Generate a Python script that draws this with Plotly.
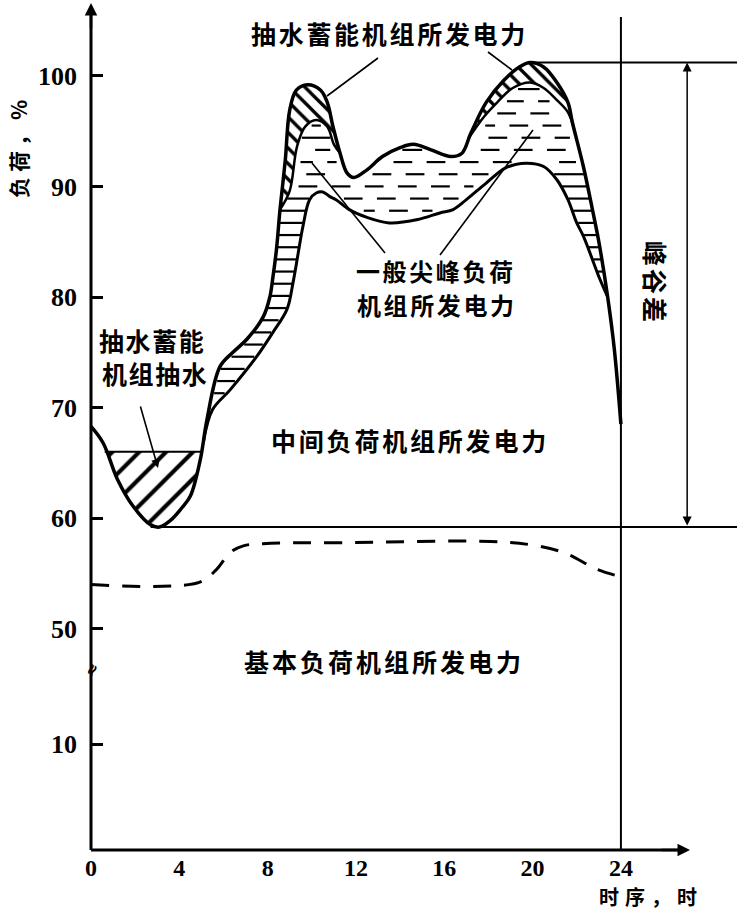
import numpy as np
import plotly.graph_objects as go

# ---------------- data (hour of day, load in %) ----------------
hours_total = [0, 0.55, 1.2, 1.9, 2.7, 3.1, 3.6, 4.1, 4.5, 4.95, 5.25, 5.84, 6.43, 7.07, 7.8,
               8.1, 8.24, 8.4, 8.56, 8.8, 9.0, 9.3, 9.8, 10.4, 10.7, 10.96, 11.28, 11.6, 11.9,
               12.5, 13.2, 14.0, 14.6, 15.4, 16.3, 16.8, 17.2, 17.9, 18.7, 19.4, 19.9, 20.5,
               21.1, 21.6, 21.8, 22.3, 22.7, 23.0, 23.4, 23.7, 24.0]
load_total = [68.3, 66.8, 63.5, 61.1, 59.4, 59.2, 59.8, 60.9, 62.0, 65.3, 68.9, 73.7, 75.0, 76.2, 78.2,
              80.0, 81.8, 84.3, 87.9, 92.4, 96.9, 98.7, 99.2, 98.7, 97.6, 95.4, 93.0, 91.2, 90.8,
              91.5, 92.7, 93.5, 93.8, 93.3, 92.7, 93.0, 94.8, 97.6, 99.6, 100.8, 101.2, 100.8,
              99.4, 97.6, 95.8, 91.8, 88.0, 85.0, 80.0, 75.3, 68.5]

# top of intermediate-load generation
hours_mid = [5.1, 5.5, 6.3, 7.5, 8.24, 8.88, 9.15, 9.37, 9.6, 9.9, 10.2, 10.5, 10.8, 11.1, 11.7,
             12.5, 13.5, 14.8, 15.8, 16.4, 17.0, 17.9, 18.8, 19.7, 20.5, 21.1, 21.6, 22.0, 22.3,
             23.05, 23.4]
load_mid = [67.0, 69.8, 71.6, 74.6, 76.8, 78.9, 81.3, 83.8, 86.4, 88.8, 89.4, 89.5, 89.1, 88.8, 87.9,
            87.2, 86.7, 87.0, 87.6, 87.9, 88.8, 90.3, 91.7, 92.1, 91.8, 90.6, 88.8, 86.7, 85.5,
            81.6, 80.0]

# top of general peak-load generation (where pumped storage generates above it)
hours_gp_left = [8.56, 9.0, 9.33, 9.7, 10.2, 10.7, 11.0, 11.28]
load_gp_left = [87.9, 89.6, 93.6, 95.4, 96.0, 95.4, 93.8, 93.0]
hours_gp_right = [17.1, 17.8, 18.4, 19.1, 19.9, 20.5, 21.1, 21.6, 21.85]
load_gp_right = [94.35, 96.3, 97.6, 98.9, 99.4, 98.9, 97.8, 96.7, 95.4]

# base-load generation (dashed)
hours_base = [0, 4.9, 5.7, 6.3, 6.9, 7.8, 12.0, 18.1, 19.9, 21.4, 22.9, 24.0]
load_base = [54.0, 54.2, 55.4, 56.9, 57.5, 57.7, 57.8, 57.9, 57.6, 56.9, 55.4, 54.7]

pump_level = 66.0
pump_start, pump_end = 0.62, 5.05
valley_load = 59.2
peak_load = 101.2

x_ticks = [0, 4, 8, 12, 16, 20, 24]
y_tick_values = [10, 50, 60, 70, 80, 90, 100]

# ---------------- helpers ----------------
def disp(v):
    """broken y axis: 0..10 shown (slightly compressed), 50..100 shifted down by 30"""
    v = np.asarray(v, dtype=float)
    return np.where(v >= 40, v - 30, v * 0.958)

W, H = 737, 910
X0PX, Y0PX, PXH, PXU = 91, 850, 22.08, 11.06
def hx(px):
    return (px - X0PX) / PXH
def dy(py):
    return (Y0PX - py) / PXU

BLACK = "black"
NUM_FONT = dict(family="Liberation Serif", size=26, color=BLACK, weight=700)
CJK_FONT = dict(family="Noto Sans CJK SC", size=25, color=BLACK, weight=700)

def spaced(t, sp=2.6):
    return '<span style="letter-spacing:%.1fpx">%s</span>' % (sp, t)

fig = go.Figure()

# ---- pumping (hatched bowl) ----
ht = np.array(hours_total); lt = np.array(load_total)
sub = (ht > pump_start) & (ht < pump_end)
px_pump = np.concatenate([[pump_start], ht[sub], [pump_end]])
py_pump = np.interp(px_pump, ht, lt)
fig.add_trace(go.Scatter(x=[pump_start, pump_end], y=disp([pump_level, pump_level]), mode="lines",
                         line=dict(color=BLACK, width=2), hoverinfo="skip", showlegend=False))
fig.add_trace(go.Scatter(x=px_pump, y=disp(py_pump), mode="lines", line=dict(color=BLACK, width=0, shape="spline"),
                         fill="tonexty", fillcolor="white",
                         fillpattern=dict(shape="/", size=19, solidity=0.22, fgcolor=BLACK, fgopacity=1,
                                          bgcolor="white"),
                         hoverinfo="skip", showlegend=False))

# ---- pumped storage generation at the peaks ----
for hh, vv in [(hours_gp_left, load_gp_left), (hours_gp_right, load_gp_right)]:
    m = (ht > hh[0]) & (ht < hh[-1])
    xo = np.concatenate([[hh[0]], ht[m], [hh[-1]]])
    yo = np.interp(xo, ht, lt)
    fig.add_trace(go.Scatter(x=xo, y=disp(yo), mode="lines", line=dict(color=BLACK, width=0, shape="spline"),
                             hoverinfo="skip", showlegend=False))
    fig.add_trace(go.Scatter(x=hh, y=disp(vv), mode="lines", line=dict(color=BLACK, width=2.5, shape="spline"),
                             fill="tonexty", fillcolor="white",
                             fillpattern=dict(shape="\\", size=11, solidity=0.3, fgcolor=BLACK, fgopacity=1,
                                              bgcolor="white"),
                             hoverinfo="skip", showlegend=False))

# ---- general peak-load region: dash texture ----
hgrid = np.linspace(hours_mid[0], hours_mid[-1], 4000)
upper = np.interp(hgrid, ht, lt)
for hh, vv in [(hours_gp_left, load_gp_left), (hours_gp_right, load_gp_right)]:
    m = (hgrid >= hh[0]) & (hgrid <= hh[-1])
    upper[m] = np.interp(hgrid[m], hh, vv)
lower = np.interp(hgrid, hours_mid, load_mid)
dx, dyv = [], []
rows = np.arange(68.0, 101.0, 1.1)
period, dlen = 1.5, 0.85
for i, v in enumerate(rows):
    inside = (lower < v - 0.25) & (upper > v + 0.25)
    idx = np.flatnonzero(inside)
    if idx.size == 0:
        continue
    splits = np.flatnonzero(np.diff(idx) > 1)
    starts = np.concatenate([[idx[0]], idx[splits + 1]])
    ends = np.concatenate([idx[splits], [idx[-1]]])
    for s, e in zip(starts, ends):
        a, b = hgrid[s], hgrid[e]
        if b - a < 1.5:
            if b - a > 0.12:
                dx += [a, b, None]; dyv += [v - 30, v - 30, None]
        else:
            off = (i % 2) * period / 2 + (i % 3) * 0.2
            k0 = np.floor((a - off) / period) - 1
            for k in np.arange(k0, k0 + 40):
                s0 = off + k * period
                s1 = s0 + dlen
                c0, c1 = max(s0, a + 0.25), min(s1, b - 0.25)
                if c1 - c0 > 0.35:
                    dx += [c0, c1, None]; dyv += [v - 30, v - 30, None]
fig.add_trace(go.Scatter(x=dx, y=dyv, mode="lines", line=dict(color=BLACK, width=2.2),
                         hoverinfo="skip", showlegend=False))

# ---- main curves ----
fig.add_trace(go.Scatter(x=hours_mid, y=disp(load_mid), mode="lines",
                         line=dict(color=BLACK, width=3, shape="spline"), hoverinfo="skip", showlegend=False))
fig.add_trace(go.Scatter(x=hours_total, y=disp(load_total), mode="lines",
                         line=dict(color=BLACK, width=3.5, shape="spline"), hoverinfo="skip", showlegend=False))
fig.add_trace(go.Scatter(x=hours_base, y=disp(load_base), mode="lines",
                         line=dict(color=BLACK, width=3, shape="spline", dash="18px,13px"),
                         hoverinfo="skip", showlegend=False))

shapes = []
def seg(x0, y0, x1, y1, w=2.0):
    shapes.append(dict(type="line", xref="x", yref="y", x0=x0, y0=y0, x1=x1, y1=y1,
                       line=dict(color=BLACK, width=w)))

xmax = hx(W)
# axes
seg(0, 0, hx(686), 0, 3)
seg(0, 0, 0, dy(8), 3)
# valley and peak reference lines, 24 h line
seg(2.7, float(disp(valley_load)), xmax, float(disp(valley_load)), 2)
seg(19.9, float(disp(peak_load)), xmax, float(disp(peak_load)), 2)
seg(24, 0, 24, dy(17), 2)
# leader lines
seg(hx(378), dy(58), hx(327), dy(96), 1.6)
seg(hx(488), dy(52), hx(512), dy(70), 1.6)
seg(hx(385), dy(253), hx(312), dy(163), 1.6)
seg(hx(440), dy(255), hx(533), dy(130), 1.6)

annotations = []
def arrow(x, y, ax, ay, w=2, head=2, side="end", size=1.0):
    annotations.append(dict(x=x, y=y, ax=ax, ay=ay, xref="x", yref="y", axref="x", ayref="y",
                            showarrow=True, arrowhead=head, arrowwidth=w, arrowsize=size,
                            arrowcolor=BLACK, arrowside=side, text=""))
arrow(hx(690), 0, hx(660), 0, w=2.5, head=2, size=1.0)
arrow(0, dy(3), 0, dy(30), w=2.5, head=2, size=1.0)
arrow(27.0, float(disp(peak_load)), 27.0, float(disp(valley_load)), w=1.5, head=2, side="end+start", size=1.2)
arrow(hx(158), dy(468), hx(140), dy(405), w=1.6, head=2, size=1.1)

def label(px, py, text, font=CJK_FONT, angle=0, sp=2.6):
    annotations.append(dict(x=hx(px), y=dy(py), xref="x", yref="y", text=spaced(text, sp), showarrow=False,
                            font=font, textangle=angle, xanchor="center", yanchor="middle",
                            borderpad=0))
label(389, 33, "抽水蓄能机组所发电力", sp=2.7)
label(436, 270, "一般尖峰负荷", font=dict(CJK_FONT, size=24), sp=2.6)
label(437, 304, "机组所发电力", font=dict(CJK_FONT, size=24), sp=2.6)
label(152, 340, "抽水蓄能", sp=1.6)
label(155, 373, "机组抽水", sp=1.6)
label(410, 440, "中间负荷机组所发电力", sp=2.8)
label(384, 661, "基本负荷机组所发电力", sp=3.0)
label(656, 283, "峰谷差", angle=90, sp=3.0)
label(18, 147, "负荷，%", font=dict(CJK_FONT, size=21), angle=-90, sp=5.0)
label(651, 896, "时序，时", font=dict(CJK_FONT, size=20), sp=6.0)
label(91, 670, "≈", font=dict(family="DejaVu Sans", size=16, color=BLACK, weight=700), angle=-60, sp=0)

fig.update_layout(
    width=W, height=H, margin=dict(l=0, r=0, t=0, b=0),
    paper_bgcolor="white", plot_bgcolor="white", showlegend=False,
    shapes=shapes, annotations=annotations,
    xaxis=dict(range=[hx(0), xmax], anchor="free", position=(H - Y0PX) / H,
               showgrid=False, zeroline=False, showline=False, ticks="",
               tickvals=x_ticks, ticktext=[str(t) for t in x_ticks],
               tickfont=dict(NUM_FONT, size=24), ticklabelstandoff=1),
    yaxis=dict(range=[dy(H), dy(0)], anchor="free", position=X0PX / W,
               showgrid=False, zeroline=False, showline=False,
               ticks="inside", ticklen=11, tickwidth=2.5, tickcolor=BLACK,
               tickvals=[float(disp(v)) for v in y_tick_values],
               ticktext=[str(v) for v in y_tick_values],
               tickfont=NUM_FONT, ticklabelstandoff=14),
)

fig.write_html("out.html")
